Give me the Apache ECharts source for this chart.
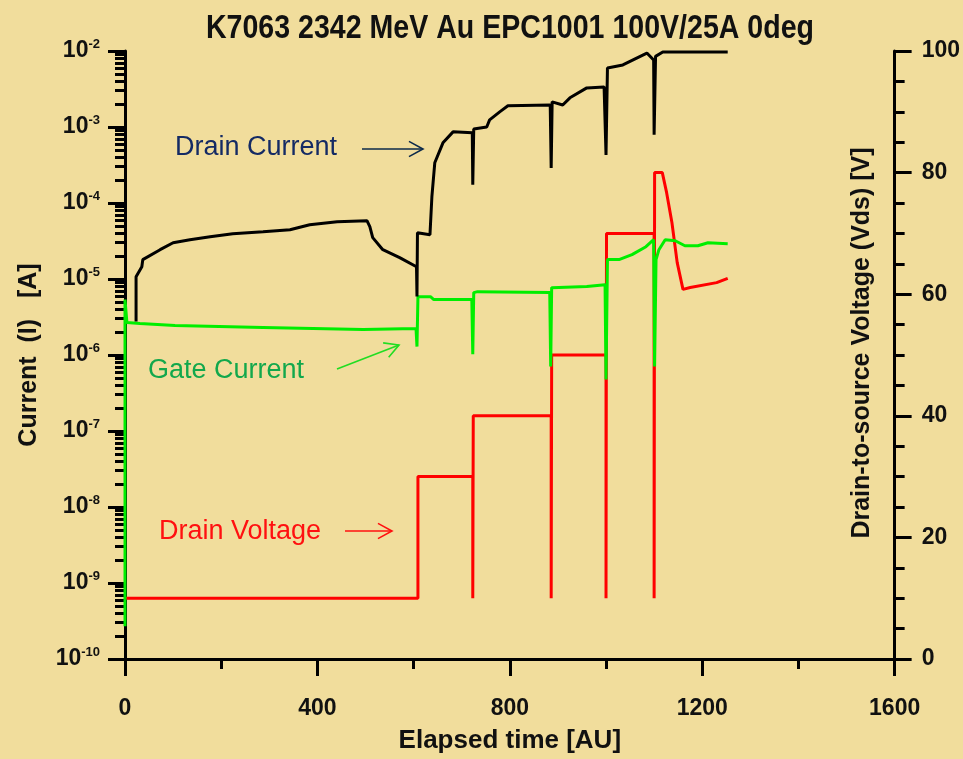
<!DOCTYPE html>
<html>
<head>
<meta charset="utf-8">
<script src="https://cdn.jsdelivr.net/npm/echarts@6/dist/echarts.min.js"></script>
<style>
html,body{margin:0;padding:0;background:#f1dd9c;}
#c{width:963px;height:759px;}
</style>
</head>
<body>
<div id="c"></div>
<script>
// ---- data ----
const titleText = 'K7063 2342 MeV Au EPC1001 100V/25A 0deg';
const xTicks = [0, 400, 800, 1200, 1600];
const currentDecades = [-10, -9, -8, -7, -6, -5, -4, -3, -2];
const voltageTicks = [0, 20, 40, 60, 80, 100];

// Drain current [A] vs elapsed time [AU]
const drainCurrentT = [23, 23, 35, 37, 73, 100, 135, 177, 224, 287, 343, 384, 441, 503, 509, 515, 536, 571, 606, 607, 608, 634, 638, 644, 661, 682, 722, 723, 725, 752, 758, 779, 796, 884, 886, 888, 910, 925, 960, 996, 1000, 1003, 1035, 1085, 1099, 1100, 1103, 1118, 1253];
const drainCurrentA = [2.75e-6, 1.07e-5, 1.45e-5, 1.8e-5, 2.43e-5, 3.0e-5, 3.29e-5, 3.6e-5, 3.95e-5, 4.19e-5, 4.45e-5, 5.18e-5, 5.67e-5, 5.85e-5, 4.88e-5, 3.5e-5, 2.43e-5, 1.91e-5, 1.45e-5, 5.87e-6, 4.07e-5, 3.83e-5, 1.21e-4, 3.38e-4, 6.19e-4, 8.63e-4, 8.37e-4, 1.74e-4, 9.44e-4, 1.0e-3, 1.24e-3, 1.58e-3, 1.9e-3, 1.95e-3, 2.9e-4, 2.14e-3, 1.95e-3, 2.42e-3, 3.27e-3, 3.37e-3, 4.3e-4, 5.98e-3, 6.55e-3, 9.4e-3, 7.6e-3, 7.9e-4, 8.5e-3, 9.7e-3, 9.7e-3];

// Gate current [A]
const gateCurrentT = [0, 0, 4, 31, 104, 287, 495, 605, 607, 609, 635, 642, 721, 723, 725, 733, 883, 885, 887, 960, 998, 1000, 1003, 1027, 1054, 1083, 1099, 1101, 1104, 1110, 1123, 1144, 1164, 1191, 1212, 1253];
const gateCurrentA = [2.7e-10, 5.36e-6, 2.67e-6, 2.6e-6, 2.44e-6, 2.3e-6, 2.16e-6, 2.23e-6, 1.29e-6, 5.86e-6, 5.86e-6, 5.36e-6, 5.36e-6, 1.02e-6, 6.62e-6, 6.82e-6, 6.62e-6, 7.06e-7, 7.7e-6, 7.94e-6, 8.43e-6, 4.77e-7, 1.8e-5, 1.8e-5, 2.09e-5, 2.66e-5, 3.29e-5, 7.06e-7, 1.8e-5, 2.43e-5, 3.29e-5, 3.19e-5, 2.74e-5, 2.74e-5, 3.0e-5, 2.92e-5];

// Drain voltage [V]
const drainVoltageT = [0, 609, 609, 723, 723, 724, 886, 886, 887, 1000, 1000, 1001, 1100, 1100, 1101, 1117, 1126, 1137, 1148, 1160, 1175, 1230, 1253];
const drainVoltageV = [10, 10, 30, 30, 10, 40, 40, 10, 50, 50, 10, 70, 70, 10, 80, 80, 76.7, 71.8, 65.2, 60.8, 61.1, 61.9, 62.6];

// ---- build ----
const pairsLog = (t, v) => t.map((x, i) => [x, Math.log10(v[i])]);
const pairs = (t, v) => t.map((x, i) => [x, v[i]]);
const minorLog = [];
for (let i = 0; i < currentDecades.length - 1; i++) {
  for (let k = 2; k <= 9; k++) minorLog.push(currentDecades[i] + Math.log10(k));
}

const FONT = '"Liberation Sans", Arial, sans-serif';
const axisColor = '#000';
const chart = echarts.init(document.getElementById('c'), null, {renderer: 'canvas'});

function arrow(x1, y1, x2, y2, color, head) {
  const a = Math.atan2(y2 - y1, x2 - x1);
  const h = head || 16, sp = 0.5;
  return {
    type: 'group',
    children: [
      {type: 'line', shape: {x1, y1, x2, y2}, style: {stroke: color, lineWidth: 1.6}},
      {type: 'polyline', shape: {points: [
        [x2 - h * Math.cos(a - sp), y2 - h * Math.sin(a - sp)],
        [x2, y2],
        [x2 - h * Math.cos(a + sp), y2 - h * Math.sin(a + sp)]
      ]}, style: {stroke: color, lineWidth: 1.6, fill: null}}
    ]
  };
}

const option = {
  backgroundColor: '#f1dd9c',
  animation: false,
  grid: {left: 125, right: 68, top: 51, bottom: 99, containLabel: false},
  xAxis: {
    type: 'value', min: xTicks[0], max: xTicks[xTicks.length - 1], interval: 400,
    name: 'Elapsed time [AU]', nameLocation: 'middle', nameGap: 69,
    nameTextStyle: {fontFamily: FONT, fontWeight: 'bold', fontSize: 26, color: '#111'},
    axisLine: {show: true, lineStyle: {color: axisColor, width: 3}},
    axisTick: {show: true, length: 17, lineStyle: {color: axisColor, width: 3}},
    minorTick: {show: true, splitNumber: 2, length: 10, lineStyle: {color: axisColor, width: 3}},
    axisLabel: {margin: 38, fontFamily: FONT, fontWeight: 'bold', fontSize: 23, color: '#111', formatter: v => String(v)},
    splitLine: {show: false}, minorSplitLine: {show: false}
  },
  yAxis: [
    {
      type: 'value', position: 'left', min: currentDecades[0], max: currentDecades[currentDecades.length - 1], interval: 1,
      name: 'Current  (I)   [A]', nameLocation: 'middle', nameGap: 83, nameRotate: 90,
      nameTextStyle: {fontFamily: FONT, fontWeight: 'bold', fontSize: 25, color: '#111'},
      axisLine: {show: true, lineStyle: {color: axisColor, width: 3}},
      axisTick: {show: true, length: 17, lineStyle: {color: axisColor, width: 3}},
      axisLabel: {
        margin: 25, color: '#111',
        formatter: v => '{b|10}{s|' + Math.round(v) + '}',
        rich: {
          b: {fontFamily: FONT, fontWeight: 'bold', fontSize: 23, color: '#111', lineHeight: 26},
          s: {fontFamily: FONT, fontWeight: 'bold', fontSize: 13, color: '#111', verticalAlign: 'top', lineHeight: 26, padding: [0, 0, 12, 0]}
        }
      },
      splitLine: {show: false}
    },
    {
      type: 'value', position: 'left', min: currentDecades[0], max: currentDecades[currentDecades.length - 1],
      axisLine: {show: false},
      axisTick: {show: true, length: 10, customValues: minorLog, lineStyle: {color: axisColor, width: 3}},
      axisLabel: {show: false},
      splitLine: {show: false}
    },
    {
      type: 'value', position: 'right', min: voltageTicks[0], max: voltageTicks[voltageTicks.length - 1], interval: 20,
      axisLine: {show: true, lineStyle: {color: axisColor, width: 3}},
      axisTick: {show: true, length: 17, lineStyle: {color: axisColor, width: 3}},
      minorTick: {show: true, splitNumber: 4, length: 10, lineStyle: {color: axisColor, width: 3}},
      axisLabel: {margin: 27, fontFamily: FONT, fontWeight: 'bold', fontSize: 23, color: '#111'},
      splitLine: {show: false}, minorSplitLine: {show: false}
    }
  ],
  series: [
    {
      name: 'Drain Voltage', type: 'line', yAxisIndex: 2, showSymbol: false, symbol: 'none',
      data: pairs(drainVoltageT, drainVoltageV),
      lineStyle: {color: '#ff0000', width: 3}, z: 2
    },
    {
      name: 'Gate Current', type: 'line', yAxisIndex: 0, showSymbol: false, symbol: 'none',
      data: pairsLog(gateCurrentT, gateCurrentA),
      lineStyle: {color: '#00ee00', width: 3}, z: 3
    },
    {
      name: 'Drain Current', type: 'line', yAxisIndex: 0, showSymbol: false, symbol: 'none',
      data: pairsLog(drainCurrentT, drainCurrentA),
      lineStyle: {color: '#000000', width: 3}, z: 4
    }
  ],
  graphic: [
    {type: 'text', x: 510, y: 29, scaleX: 0.84,
      style: {text: titleText, font: 'bold 34px ' + FONT, fill: '#111', align: 'center', verticalAlign: 'middle', textAlign: 'center', textVerticalAlign: 'middle'}},
    {type: 'text', x: 862, y: 343, rotation: Math.PI / 2,
      style: {text: 'Drain-to-source Voltage (Vds) [V]', font: 'bold 25px ' + FONT, fill: '#111', align: 'center', verticalAlign: 'middle', textAlign: 'center', textVerticalAlign: 'middle'}},
    {type: 'text', x: 175, y: 148,
      style: {text: 'Drain Current', font: '27px ' + FONT, fill: '#142a64', align: 'left', verticalAlign: 'middle', textAlign: 'left', textVerticalAlign: 'middle'}},
    arrow(362, 149, 423, 149, '#0d2a4a'),
    {type: 'text', x: 148, y: 371,
      style: {text: 'Gate Current', font: '27px ' + FONT, fill: '#12a84c', align: 'left', verticalAlign: 'middle', textAlign: 'left', textVerticalAlign: 'middle'}},
    arrow(337, 369, 399, 345, '#22dd22'),
    {type: 'text', x: 159, y: 532,
      style: {text: 'Drain Voltage', font: '27px ' + FONT, fill: '#ff1010', align: 'left', verticalAlign: 'middle', textAlign: 'left', textVerticalAlign: 'middle'}},
    arrow(345, 531, 392, 531, '#ff1010')
  ]
};
chart.setOption(option);
</script>
</body>
</html>
